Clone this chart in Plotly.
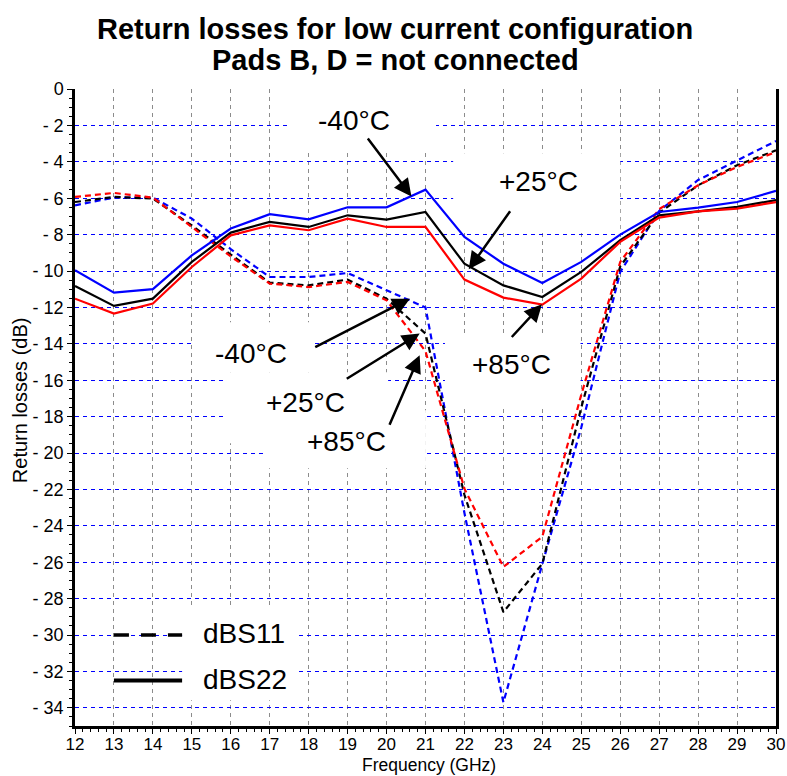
import plotly.graph_objects as go

# Frequency points (GHz)
freq = [12, 13, 14, 15, 16, 17, 18, 19, 20, 21, 22, 23, 24, 25, 26, 27, 28, 29, 30]

# dBS11 (input return loss) at three temperatures
s11_m40 = [-6.39, -5.97, -5.97, -7.12, -8.8, -10.33, -10.33, -10.11, -11.06, -12.0,
           -23.3, -33.7, -26.1, -18.6, -10.05, -6.7, -5.0, -3.92, -2.86]
s11_p25 = [-6.21, -5.93, -6.02, -7.5, -9.1, -10.64, -10.79, -10.47, -11.52, -13.44,
           -22.3, -28.74, -26.08, -17.5, -9.75, -6.8, -5.29, -4.19, -3.37]
s11_p85 = [-5.93, -5.71, -5.97, -7.6, -9.2, -10.69, -10.88, -10.6, -11.61, -14.4,
           -21.96, -26.26, -24.6, -16.8, -9.5, -6.6, -5.29, -4.28, -3.46]

# dBS22 (output return loss) at three temperatures
s22_m40 = [-9.96, -11.19, -11.0, -9.14, -7.67, -6.88, -7.16, -6.5, -6.5, -5.53,
           -8.13, -9.6, -10.66, -9.5, -8.0, -6.76, -6.52, -6.21, -5.6]
s22_p25 = [-10.82, -11.92, -11.52, -9.5, -7.89, -7.3, -7.58, -6.94, -7.18, -6.76,
           -9.6, -10.79, -11.43, -10.05, -8.31, -6.94, -6.72, -6.48, -6.1]
s22_p85 = [-11.52, -12.34, -11.79, -9.78, -8.04, -7.49, -7.76, -7.12, -7.58, -7.58,
           -10.47, -11.46, -11.85, -10.42, -8.4, -7.07, -6.72, -6.57, -6.21]

# Axis ticks
x_ticks = list(range(12, 31))
y_ticks = list(range(0, -35, -2))
y_tick_text = ["0"] + ["- %d" % (-v) for v in y_ticks[1:]]

FONT = "Liberation Sans, Arial, sans-serif"
BLUE, BLACK, RED = "#0000FF", "#000000", "#FF0000"

fig = go.Figure()

series = [
    (s11_m40, BLUE, "6px,4px"), (s11_p25, BLACK, "6px,4px"), (s11_p85, RED, "6px,4px"),
    (s22_m40, BLUE, "solid"), (s22_p25, BLACK, "solid"), (s22_p85, RED, "solid"),
]
for vals, col, dash in series:
    fig.add_trace(go.Scatter(
        x=freq, y=vals, mode="lines",
        line=dict(color=col, width=2.2, dash=dash),
        showlegend=False, hoverinfo="skip",
    ))

# White label backgrounds that interrupt the grid (drawn between grid and traces)
label_boxes = [
    (17.54, 21.27, -3.45, 0.0),
    (21.71, 26.0, -3.53, -7.7),
    (21.5, 24.98, -13.53, -17.38),
    (15.06, 18.12, -12.82, -15.57),
    (15.87, 20.04, -15.57, -19.47),
    (16.85, 21.01, -17.65, -20.84),
    (14.75, 17.74, -28.37, -33.59),
]
shapes = []
for x0, x1, y0, y1 in label_boxes:
    shapes.append(dict(type="rect", xref="x", yref="y", x0=x0, x1=x1, y0=y0, y1=y1,
                       fillcolor="white", line=dict(width=0), layer="between"))

# Legend line samples
shapes.append(dict(type="line", xref="x", yref="y", x0=13.0, x1=14.75, y0=-30.0, y1=-30.0,
                   line=dict(color="black", width=3.6, dash="15px,12px"), layer="above"))
shapes.append(dict(type="line", xref="x", yref="y", x0=13.0, x1=14.75, y0=-32.5, y1=-32.5,
                   line=dict(color="black", width=4), layer="above"))

annotations = []
LBL = dict(family=FONT, size=28, color="black")

# Temperature labels
for txt, x, y in [
    ("-40°C", 19.16, -1.72),
    ("+25°C", 23.9, -5.07),
    ("+85°C", 23.21, -15.13),
    ("-40°C", 16.53, -14.52),
    ("+25°C", 17.93, -17.21),
    ("+85°C", 18.96, -19.36),
]:
    annotations.append(dict(text=txt, x=x, y=y, xref="x", yref="y", showarrow=False,
                            xanchor="center", yanchor="middle", font=LBL))

# Legend labels
annotations.append(dict(text="dBS11", x=15.24, y=-29.9, xref="x", yref="y", showarrow=False,
                        xanchor="left", yanchor="middle", font=LBL))
annotations.append(dict(text="dBS22", x=15.24, y=-32.45, xref="x", yref="y", showarrow=False,
                        xanchor="left", yanchor="middle", font=LBL))

# Pointer arrows: (tail x, tail y, head x, head y)
for ax_, ay_, hx, hy in [
    (19.49, -2.64, 20.64, -5.9),
    (23.2, -6.63, 22.11, -9.91),
    (23.18, -13.71, 23.99, -11.83),
    (18.13, -14.23, 20.6, -11.52),
    (18.94, -15.97, 20.85, -13.44),
    (20.06, -18.53, 20.85, -14.63),
]:
    annotations.append(dict(text="", x=hx, y=hy, ax=ax_, ay=ay_, xref="x", yref="y",
                            axref="x", ayref="y", showarrow=True, arrowhead=2,
                            arrowsize=1.4, arrowwidth=2.5, arrowcolor="black", standoff=0))

# Title lines
TITLE = dict(family=FONT, size=29, color="black", weight="bold")
annotations.append(dict(text="<b>Return losses for low current configuration</b>",
                        x=0.4565, y=1.0942, xref="paper", yref="paper", showarrow=False,
                        xanchor="center", yanchor="middle", font=TITLE))
annotations.append(dict(text="<b>Pads B, D = not connected</b>",
                        x=0.4565, y=1.0455, xref="paper", yref="paper", showarrow=False,
                        xanchor="center", yanchor="middle", font=TITLE))

# Axis titles
annotations.append(dict(text="Frequency (GHz)", x=0.5057, y=-0.0620, xref="paper", yref="paper",
                        showarrow=False, xanchor="center", yanchor="middle",
                        font=dict(family=FONT, size=17.5, color="black")))
annotations.append(dict(text="Return losses (dB)", x=-0.078, y=0.512, xref="paper", yref="paper",
                        showarrow=False, xanchor="center", yanchor="middle", textangle=-90,
                        font=dict(family=FONT, size=20, color="black")))

fig.update_layout(
    width=787, height=776,
    margin=dict(l=75, r=11, t=89, b=50),
    paper_bgcolor="white", plot_bgcolor="white",
    shapes=shapes, annotations=annotations,
    showlegend=False,
    xaxis=dict(
        range=[12, 30], tickvals=x_ticks, ticktext=[str(v) for v in x_ticks],
        showgrid=True, gridcolor="#8c8c8c", griddash="4px,4px", gridwidth=1,
        showline=True, linecolor="black", linewidth=2.5, mirror=False,
        ticks="outside", ticklen=5, tickcolor="black", tickwidth=1,
        minor=dict(dtick=0.2, ticks="outside", ticklen=3, tickcolor="black", showgrid=False),
        tickfont=dict(family=FONT, size=17, color="black"),
        ticklabelstandoff=-4,
        zeroline=False, automargin=False,
    ),
    yaxis=dict(
        range=[-35, 0], tickvals=y_ticks, ticktext=y_tick_text,
        showgrid=True, gridcolor=BLUE, griddash="4px,4px", gridwidth=1.3,
        showline=True, linecolor="black", linewidth=2.5, mirror=True,
        ticks="outside", ticklen=5, tickcolor="black", tickwidth=1,
        minor=dict(dtick=0.5, ticks="outside", ticklen=3, tickcolor="black", showgrid=False),
        tickfont=dict(family=FONT, size=18, color="black"),
        zeroline=False, automargin=False,
    ),
)

fig.write_html("out.html")
